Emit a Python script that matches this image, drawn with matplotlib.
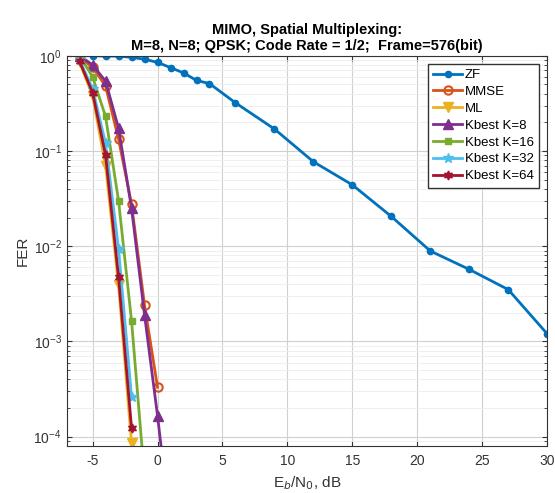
import matplotlib.pyplot as plt
import matplotlib.ticker as ticker

plt.rcParams['font.family'] = ['Liberation Sans', 'DejaVu Sans']
plt.rcParams['axes.unicode_minus'] = False

# FER vs Eb/N0 for each detector
zf_x = [-6, -5, -4, -3, -2, -1, 0, 1, 2, 3, 4, 6, 9, 12, 15, 18, 21, 24, 27, 30]
zf_y = [1.0, 1.0, 0.99, 0.99, 0.96, 0.92, 0.85, 0.75, 0.66, 0.55, 0.51, 0.32, 0.17,
        0.077, 0.044, 0.0205, 0.0089, 0.0057, 0.0035, 0.0012]

mmse_x = [-6, -5, -4, -3, -2, -1, 0]
mmse_y = [0.95, 0.76, 0.48, 0.133, 0.0276, 0.0024, 3.3e-4]

ml_x = [-6, -5, -4, -3, -2]
ml_y = [0.85, 0.38, 0.07, 0.0039, 8.5e-5]

k8_x = [-6, -5, -4, -3, -2, -1, 0, 1]
k8_y = [1.0, 0.80, 0.54, 0.173, 0.025, 0.0019, 1.66e-4, 1.1e-5]

k16_x = [-6, -5, -4, -3, -2, -1]
k16_y = [1.0, 0.60, 0.23, 0.030, 0.00164, 3.7e-5]

k32_x = [-6, -5, -4, -3, -2]
k32_y = [0.9, 0.45, 0.12, 0.0093, 2.6e-4]

k64_x = [-6, -5, -4, -3, -2]
k64_y = [0.87, 0.41, 0.09, 0.0047, 1.23e-4]

fig = plt.figure(figsize=(5.55, 4.93), dpi=100)
ax = fig.add_axes([0.12, 0.095, 0.866, 0.792])

ax.semilogy(zf_x, zf_y, '-o', color='#0072BD', lw=2, ms=4.5, label='ZF')
ax.semilogy(mmse_x, mmse_y, '-o', color='#D95319', lw=2, ms=6, mfc='none', mew=1.5, label='MMSE')
ax.semilogy(ml_x, ml_y, '-v', color='#EDB120', lw=2, ms=6.5, label='ML')
ax.semilogy(k8_x, k8_y, '-^', color='#7E2F8E', lw=2, ms=7, label='Kbest K=8')
ax.semilogy(k16_x, k16_y, '-s', color='#77AC30', lw=2, ms=4.5, label='Kbest K=16')
ax.semilogy(k32_x, k32_y, '-*', color='#4DBEEE', lw=2, ms=7.5, label='Kbest K=32')
ax.semilogy(k64_x, k64_y, '-', marker=(6, 1, 0), color='#A2142F', lw=2, ms=6.5, label='Kbest K=64')

ax.set_xlim(-7, 30)
ax.set_ylim(10 ** -4.1, 1)
ax.xaxis.set_major_locator(ticker.MultipleLocator(5))
ax.yaxis.set_major_locator(ticker.LogLocator(base=10, numticks=10))
ax.yaxis.set_minor_locator(ticker.LogLocator(base=10, subs=range(2, 10), numticks=10))
ax.yaxis.set_minor_formatter(ticker.NullFormatter())

ax.grid(which='major', color='#d0d0d0', lw=0.8)
ax.grid(which='minor', axis='y', color='#ececec', lw=0.6)
ax.tick_params(which='both', direction='in', top=True, right=True, labelsize=10, colors='#333333')
ax.tick_params(axis='x', pad=6)
for s in ax.spines.values():
    s.set_color('#333333')
    s.set_linewidth(0.8)

ax.set_xlabel('E$_b$/N$_0$, dB', fontsize=11, color='#333333')
ax.set_ylabel('FER', fontsize=11, color='#333333', labelpad=3)
ax.set_title('MIMO, Spatial Multiplexing:\nM=8, N=8; QPSK; Code Rate = 1/2;  Frame=576(bit)',
             fontsize=10.5, fontweight='bold', pad=4)

ax.legend(loc='upper right', fontsize=9.5, fancybox=False, edgecolor='#333333',
          framealpha=1, handlelength=2.2, handletextpad=0.2, labelspacing=0.35,
          borderaxespad=0.6)

fig.savefig('out.png', dpi=100)
